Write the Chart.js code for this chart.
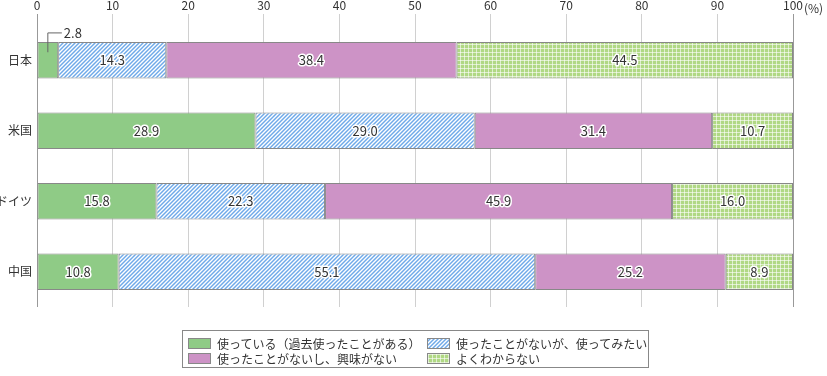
<!DOCTYPE html>
<html>
<head>
<meta charset="utf-8">
<script src="https://cdn.jsdelivr.net/npm/chart.js@4"></script>
<style>
  body { margin: 0; background: #fff; }
  #wrap { position: relative; width: 827px; height: 376px; }
  #legend {
    position: absolute; left: 182px; top: 330px; width: 467px; height: 38px;
    border: 1px solid #888; box-sizing: border-box;
    font-family: "Noto Sans CJK JP", sans-serif; font-size: 12px; color: #333;
  }
  .item { position: absolute; display: flex; align-items: center; white-space: nowrap; }
  .item canvas { border: 1px solid #888; margin-right: 6px; }
</style>
</head>
<body>
<div id="wrap">
  <canvas id="chart" width="827" height="376"></canvas>
  <div id="legend"></div>
</div>
<script>
const categories = ['日本', '米国', 'ドイツ', '中国']
const seriesNames = ['使っている（過去使ったことがある）', '使ったことがないが、使ってみたい', '使ったことがないし、興味がない', 'よくわからない']
const used = [2.8, 28.9, 15.8, 10.8]
const wantToUse = [14.3, 29.0, 22.3, 55.1]
const notInterested = [38.4, 31.4, 45.9, 25.2]
const unknown = [44.5, 10.7, 16.0, 8.9]
const xTicks = [0, 10, 20, 30, 40, 50, 60, 70, 80, 90, 100]

const font = '"Noto Sans CJK JP", sans-serif'

function stripePattern() {
    const c = document.createElement('canvas')
    c.width = 4; c.height = 4
    const g = c.getContext('2d')
    g.fillStyle = '#6ea9e9'
    g.fillRect(0, 0, 4, 4)
    g.strokeStyle = '#ffffff'
    g.lineWidth = 1.4
    g.beginPath()
    g.moveTo(-1, 5); g.lineTo(5, -1)
    g.moveTo(-1, 1); g.lineTo(1, -1)
    g.moveTo(3, 5); g.lineTo(5, 3)
    g.stroke()
    return document.getElementById('chart').getContext('2d').createPattern(c, 'repeat')
}

function gridPattern() {
    const c = document.createElement('canvas')
    c.width = 4; c.height = 4
    const g = c.getContext('2d')
    g.fillStyle = '#b0d884'
    g.fillRect(0, 0, 4, 4)
    g.fillStyle = 'rgba(255,255,255,0.6)'
    g.fillRect(0, 0, 4, 1)
    g.fillRect(0, 0, 1, 4)
    return document.getElementById('chart').getContext('2d').createPattern(c, 'repeat')
}

const fills = ['#8fcb86', stripePattern(), '#cd93c6', gridPattern()]
const values = [used, wantToUse, notInterested, unknown]

const labelPlugin = {
    id: 'labels',
    afterDatasetsDraw(chart) {
        const ctx = chart.ctx
        ctx.save()
        ctx.font = '13px ' + font
        ctx.textBaseline = 'middle'
        ctx.lineJoin = 'round'
        chart.data.datasets.forEach((ds, i) => {
            chart.getDatasetMeta(i).data.forEach((bar, j) => {
                const v = ds.data[j]
                const text = v.toFixed(1)
                let x = (bar.x + bar.base) / 2
                let y = bar.y
                if (v < 5) {
                    // small value: label outside with a leader line
                    const top = y - bar.height / 2
                    ctx.strokeStyle = '#666'
                    ctx.lineWidth = 1
                    ctx.beginPath()
                    ctx.moveTo(x, y - 8)
                    ctx.lineTo(x, top - 9)
                    ctx.lineTo(x + 14, top - 9)
                    ctx.stroke()
                    ctx.textAlign = 'left'
                    x = x + 16
                    y = top - 9
                } else {
                    ctx.textAlign = 'center'
                }
                ctx.strokeStyle = '#fff'
                ctx.lineWidth = 3
                ctx.strokeText(text, x, y)
                ctx.fillStyle = '#333'
                ctx.fillText(text, x, y)
            })
        })
        // unit after the 100 tick
        const xs = chart.scales.x
        ctx.font = '12px ' + font
        ctx.textAlign = 'left'
        ctx.fillStyle = '#333'
        ctx.fillText('(%)', xs.getPixelForValue(100) + 11, 8)
        ctx.restore()
    }
}

new Chart(document.getElementById('chart'), {
    type: 'bar',
    data: {
        labels: categories,
        datasets: values.map((d, i) => ({
            label: seriesNames[i],
            data: d,
            backgroundColor: fills[i],
            borderColor: '#888',
            borderWidth: 1,
            borderSkipped: false,
            barPercentage: 0.52,
            categoryPercentage: 1
        }))
    },
    options: {
        indexAxis: 'y',
        responsive: false,
        animation: false,
        layout: {padding: {top: 0, right: 34, bottom: 69, left: 0}},
        plugins: {legend: {display: false}, tooltip: {enabled: false}},
        scales: {
            x: {
                position: 'top',
                stacked: true,
                min: 0,
                max: 100,
                afterBuildTicks: s => { s.ticks = xTicks.map(v => ({value: v})) },
                afterFit: s => { s.height = 25 },
                border: {display: false},
                grid: {
                    color: c => (c.tick && (c.tick.value === 0 || c.tick.value === 100)) ? '#999' : '#d0d0d0',
                    tickLength: 11,
                    lineWidth: 1
                },
                ticks: {padding: 1, color: '#333', font: {family: font, size: 12}, maxRotation: 0}
            },
            y: {
                stacked: true,
                afterFit: s => { s.width = 37 },
                border: {display: false},
                grid: {display: false, drawTicks: false, tickLength: 0},
                ticks: {padding: 5, color: '#333', font: {family: font, size: 12}}
            }
        }
    },
    plugins: [labelPlugin]
})

// legend
const legend = document.getElementById('legend')
const pos = [[5, 4], [244, 4], [5, 19], [244, 19]]
seriesNames.forEach((name, i) => {
    const item = document.createElement('div')
    item.className = 'item'
    item.style.left = pos[i][0] + 'px'
    item.style.top = pos[i][1] + 'px'
    const sw = document.createElement('canvas')
    sw.width = 21; sw.height = 9
    const g = sw.getContext('2d')
    g.fillStyle = fills[i]
    g.fillRect(0, 0, 21, 9)
    item.appendChild(sw)
    const t = document.createElement('span')
    t.textContent = name
    item.appendChild(t)
    legend.appendChild(item)
})
</script>
</body>
</html>
